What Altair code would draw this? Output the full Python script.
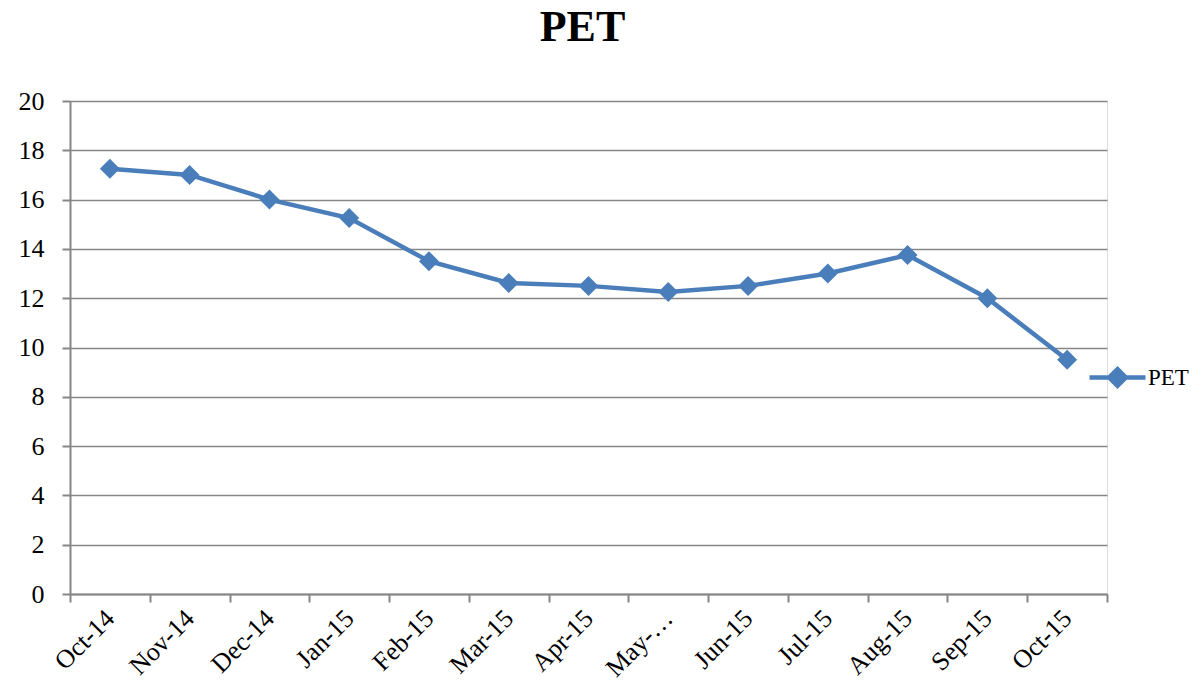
import altair as alt
import pandas as pd

months = ["Oct-14", "Nov-14", "Dec-14", "Jan-15", "Feb-15", "Mar-15", "Apr-15",
          "May-15", "Jun-15", "Jul-15", "Aug-15", "Sep-15", "Oct-15"]
month_labels = ["Oct-14", "Nov-14", "Dec-14", "Jan-15", "Feb-15", "Mar-15", "Apr-15",
                "May-…", "Jun-15", "Jul-15", "Aug-15", "Sep-15", "Oct-15"]
pet = [17.25, 17.0, 16.0, 15.25, 13.5, 12.62, 12.5, 12.25, 12.5, 13.0, 13.75, 12.0, 9.5]
y_ticks = list(range(0, 21, 2))

df = pd.DataFrame({"month": month_labels, "value": pet, "series": ["PET"] * len(pet)})

BLUE = "#4A7EBB"
GRID = "#868686"
FONT = "Liberation Serif"

legend_path = "M-1,0L1,0M0,-0.3L0.3,0L0,0.3L-0.3,0Z"

x = alt.X("month:N", sort=month_labels, title=None, bandPosition=0.5,
          scale=alt.Scale(type="band", paddingInner=0, paddingOuter=0),
          axis=alt.Axis(labelAngle=-45, labelAlign="right", labelBaseline="middle",
                        labelFontSize=26, labelFont=FONT, labelColor="#000000",
                        labelPadding=12, tickBand="extent", tickSize=8, tickColor=GRID,
                        tickWidth=2, domainColor=GRID, domainWidth=2, grid=False,
                        labelOverlap=False))
y = alt.Y("value:Q", title=None,
          scale=alt.Scale(domain=[0, 20], nice=False, zero=True),
          axis=alt.Axis(values=y_ticks, labelFontSize=26, labelFont=FONT,
                        labelColor="#000000", labelPadding=18, tickSize=8,
                        tickColor=GRID, tickWidth=2, domainColor=GRID, domainWidth=2,
                        grid=True, gridColor=GRID, gridWidth=1.5))
color = alt.Color("series:N", title=None,
                  scale=alt.Scale(domain=["PET"], range=[BLUE]),
                  legend=alt.Legend(orient="none", legendX=1017, legendY=246,
                                    symbolType=legend_path, symbolSize=3136,
                                    symbolStrokeWidth=4.5, symbolFillColor=BLUE,
                                    symbolStrokeColor=BLUE, labelFontSize=23,
                                    labelFont=FONT, labelColor="#000000",
                                    labelOffset=0))

line = alt.Chart(df).mark_line(strokeWidth=4.5).encode(x=x, y=y, color=color)
points = alt.Chart(df).mark_point(shape="diamond", filled=True, size=400, opacity=1).encode(
    x=x, y=y, color=alt.Color("series:N", scale=alt.Scale(domain=["PET"], range=[BLUE]), legend=None))

chart = alt.layer(line, points).properties(
    width=1037, height=493,
    title=alt.Title("PET", font=FONT, fontSize=44, fontWeight="bold", color="#000000",
                    anchor="middle", dx=-6, offset=38),
    autosize=alt.AutoSizeParams(type="none"),
    padding={"left": 62, "top": 93, "right": 86, "bottom": 86},
).configure_view(stroke=None).configure(background="#ffffff")

chart.save("out.html", embed_options={"renderer": "svg", "actions": False})
